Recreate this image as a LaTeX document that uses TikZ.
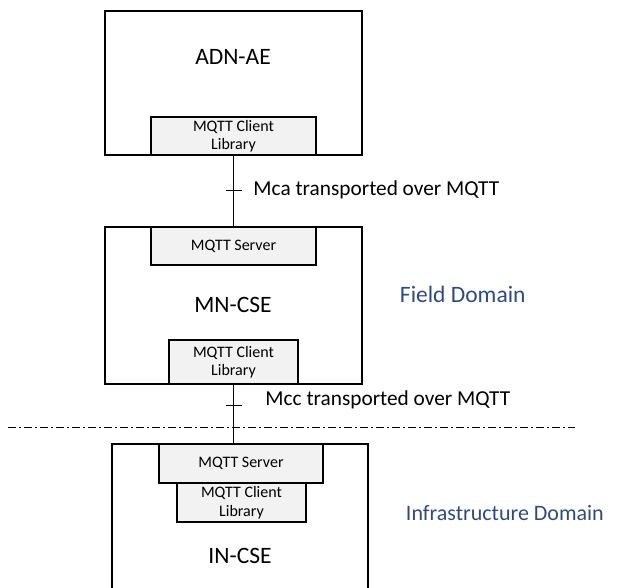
\documentclass[tikz,border=0pt]{standalone}
\usepackage{fontspec}
\setmainfont{Carlito}
\usetikzlibrary{positioning}
\definecolor{domainblue}{RGB}{47,75,125}
\definecolor{partgray}{RGB}{242,242,242}

\begin{document}
\begin{tikzpicture}[x=1pt, y=-1pt, line width=1.3pt,
    part/.style={draw, fill=partgray, inner sep=0pt, align=center,
      font=\fontsize{16}{18.5}\selectfont},
    entity/.style={font=\fontsize{23.5}{28}\selectfont},
    linklabel/.style={font=\fontsize{21.3}{25}\selectfont, anchor=west},
    domaintext/.style={text=domainblue, anchor=west}]
    \useasboundingbox (0,0) rectangle (617,587);
    \clip (0,0) rectangle (617,587);

    % ADN-AE
    \draw (105,11) rectangle (362,155);
    \node[entity] (adnae) at (233,57) {ADN-AE};
    \node[part, minimum width=165, minimum height=38] (adnlib) at (233.5,136) {MQTT Client\\Library};

    % MN-CSE
    \draw (105,227) rectangle (362,384);
    \node[part, minimum width=165, minimum height=38] (mnsrv) at (233.5,246) {MQTT Server};
    \node[entity] (mncse) at (233,305) {MN-CSE};
    \node[part, minimum width=129, minimum height=44] (mnlib) at (233.5,362) {MQTT Client\\Library};

    % IN-CSE
    \draw (112,444) rectangle (368,620);
    \node[part, minimum width=129, minimum height=39] (inlib) at (241.5,502.5) {MQTT Client\\Library};
    \node[part, minimum width=164, minimum height=39] (insrv) at (241,463.5) {MQTT Server};
    \node[entity] (incse) at (240,556) {IN-CSE};

    % reference points
    \draw (adnlib.south) -- coordinate[pos=0.49] (mca) (mnsrv.north);
    \draw (mca) +(-8,0) -- +(8,0);
    \node[linklabel, right=16pt of mca] (mcalabel) {Mca transported over MQTT};

    \draw (mnlib.south) -- coordinate[pos=0.35] (mcc) (mnlib.south |- insrv.north);
    \draw (mcc) +(-8,0) -- +(8,0);
    \node[linklabel, right=28pt of mcc, yshift=5pt] (mcclabel) {Mcc transported over MQTT};

    % domain border
    \draw[line width=1pt, dash pattern=on 8pt off 3pt on 2pt off 3pt] (8,427) -- (575,427);
    \node[domaintext, font=\fontsize{23.5}{28}\selectfont] (field) at (396,294) {Field Domain};
    \node[domaintext, font=\fontsize{22}{26}\selectfont] (infra) at (402,513) {Infrastructure Domain};
\end{tikzpicture}
\end{document}
